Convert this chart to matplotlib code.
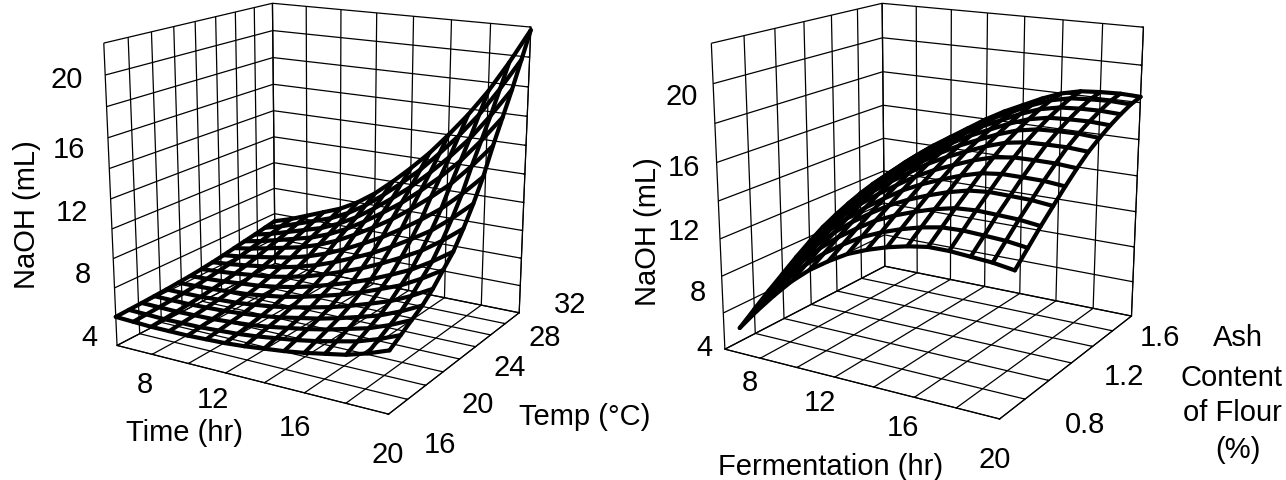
import matplotlib
matplotlib.use("Agg")
import matplotlib.pyplot as plt

plt.rcParams["font.family"] = ["Liberation Sans", "DejaVu Sans"]
plt.rcParams["grid.color"] = "black"
plt.rcParams["grid.linewidth"] = 0.9

W, H = 1286, 480

# left chart: time 6-20 h across, temp 16-32 C along
time_hr = [6, 7, 8, 9, 10, 11, 12, 13, 14, 15, 16, 17, 18, 19, 20]
temp_c = [16, 17.14, 18.29, 19.43, 20.57, 21.71, 22.86, 24, 25.14, 26.29, 27.43, 28.57, 29.71, 30.86, 32]
naoh_left = [
    [4.0, 3.95, 3.9, 3.9, 3.9, 3.95, 4.0, 4.1, 4.25, 4.4, 4.6, 4.85, 5.1, 5.5, 6.0],
    [4.04, 4.01, 3.97, 3.99, 4.0, 4.07, 4.15, 4.28, 4.46, 4.64, 4.88, 5.17, 5.47, 5.92, 6.47],
    [4.08, 4.06, 4.04, 4.07, 4.1, 4.19, 4.29, 4.45, 4.67, 4.89, 5.16, 5.5, 5.84, 6.34, 6.95],
    [4.13, 4.12, 4.12, 4.16, 4.21, 4.31, 4.44, 4.63, 4.88, 5.13, 5.45, 5.82, 6.21, 6.76, 7.42],
    [4.18, 4.19, 4.21, 4.28, 4.34, 4.48, 4.64, 4.87, 5.15, 5.45, 5.82, 6.25, 6.7, 7.32, 8.05],
    [4.25, 4.28, 4.33, 4.42, 4.51, 4.68, 4.88, 5.16, 5.5, 5.86, 6.29, 6.79, 7.31, 8.02, 8.84],
    [4.32, 4.38, 4.45, 4.57, 4.68, 4.88, 5.13, 5.46, 5.85, 6.26, 6.76, 7.32, 7.93, 8.72, 9.63],
    [4.42, 4.51, 4.62, 4.77, 4.92, 5.17, 5.47, 5.87, 6.34, 6.83, 7.42, 8.08, 8.79, 9.7, 10.74],
    [4.53, 4.65, 4.81, 5.0, 5.19, 5.49, 5.86, 6.34, 6.89, 7.48, 8.17, 8.94, 9.77, 10.82, 12.0],
    [4.66, 4.82, 5.03, 5.26, 5.5, 5.85, 6.3, 6.87, 7.52, 8.21, 9.02, 9.9, 10.88, 12.08, 13.43],
    [4.81, 5.02, 5.29, 5.58, 5.87, 6.3, 6.84, 7.52, 8.28, 9.1, 10.05, 11.09, 12.23, 13.62, 15.16],
    [4.95, 5.21, 5.53, 5.87, 6.21, 6.7, 7.33, 8.11, 8.98, 9.91, 10.99, 12.16, 13.46, 15.02, 16.74],
    [5.09, 5.39, 5.77, 6.16, 6.55, 7.11, 7.82, 8.7, 9.67, 10.72, 11.93, 13.24, 14.69, 16.42, 18.32],
    [5.25, 5.6, 6.04, 6.48, 6.93, 7.55, 8.36, 9.35, 10.44, 11.61, 12.97, 14.42, 16.05, 17.96, 20.06],
    [5.4, 5.8, 6.3, 6.8, 7.3, 8.0, 8.9, 10.0, 11.2, 12.5, 14.0, 15.6, 17.4, 19.5, 21.8],
]

# right chart: fermentation 6-20 h across, ash 0.7-1.8 % along
ferm_hr = [6, 7, 8, 9, 10, 11, 12, 13, 14, 15, 16, 17, 18, 19, 20]
ash_pct = [0.7, 0.8, 0.9, 1.0, 1.1, 1.2, 1.3, 1.4, 1.5, 1.6, 1.7, 1.8]
naoh_right = [
    [4.9, 6.3, 7.6, 8.8, 9.8, 10.6, 11.3, 11.8, 12.2, 12.5, 12.7, 12.7, 12.6, 12.5, 12.3],
    [5.67, 7.02, 8.28, 9.44, 10.41, 11.21, 11.92, 12.45, 12.88, 13.22, 13.45, 13.49, 13.42, 13.34, 13.16],
    [6.43, 7.73, 8.95, 10.07, 11.02, 11.82, 12.55, 13.1, 13.55, 13.93, 14.21, 14.29, 14.24, 14.18, 14.02],
    [7.14, 8.39, 9.58, 10.66, 11.59, 12.39, 13.12, 13.7, 14.18, 14.59, 14.9, 15.02, 14.99, 14.95, 14.81],
    [7.85, 9.05, 10.2, 11.25, 12.15, 12.95, 13.7, 14.3, 14.8, 15.25, 15.6, 15.75, 15.75, 15.73, 15.6],
    [8.5, 9.66, 10.77, 11.79, 12.67, 13.47, 14.23, 14.85, 15.37, 15.86, 16.24, 16.42, 16.44, 16.43, 16.33],
    [9.09, 10.21, 11.29, 12.28, 13.14, 13.94, 14.71, 15.35, 15.89, 16.41, 16.82, 17.03, 17.07, 17.08, 16.99],
    [9.56, 10.65, 11.71, 12.67, 13.51, 14.31, 15.09, 15.75, 16.31, 16.85, 17.28, 17.52, 17.58, 17.6, 17.51],
    [9.97, 11.03, 12.07, 13.01, 13.84, 14.64, 15.43, 16.1, 16.67, 17.23, 17.69, 17.95, 18.02, 18.05, 17.98],
    [10.33, 11.36, 12.38, 13.31, 14.12, 14.92, 15.72, 16.4, 16.98, 17.56, 18.04, 18.31, 18.4, 18.43, 18.37],
    [10.62, 11.64, 12.64, 13.55, 14.36, 15.16, 15.96, 16.65, 17.24, 17.84, 18.33, 18.62, 18.71, 18.76, 18.7],
    [10.8, 11.8, 12.8, 13.7, 14.5, 15.3, 16.1, 16.8, 17.4, 18.0, 18.5, 18.8, 18.9, 18.95, 18.9],
]

left_xticks = [6, 8, 10, 12, 14, 16, 18, 20]
left_yticks = [16, 18, 20, 22, 24, 26, 28, 30, 32]
left_zticks = [2, 4, 6, 8, 10, 12, 14, 16, 18, 20, 22]
right_xticks = [6, 8, 10, 12, 14, 16, 18, 20]
right_yticks = [0.6, 0.8, 1.0, 1.2, 1.4, 1.6, 1.8]
right_zticks = [4, 6.42, 8.84, 11.26, 13.68, 16.1, 18.52, 20.94, 23.36]

# tick labels, text and pixel centre
left_labels = [("20", 67, 80), ("16", 69, 150), ("12", 72, 213), ("8", 83, 275), ("4", 89, 338),
               ("8", 145, 385), ("12", 213, 400), ("16", 295, 428), ("20", 388, 455),
               ("16", 440, 445), ("20", 478, 405), ("24", 510, 368), ("28", 545, 338), ("32", 570, 305)]
right_labels = [("20", 682, 97), ("16", 684, 168), ("12", 684, 232), ("8", 698, 293), ("4", 704, 348),
                ("8", 750, 383), ("12", 820, 403), ("16", 903, 428), ("20", 995, 460),
                ("0.8", 1085, 425), ("1.2", 1124, 377), ("1.6", 1160, 338)]
titles = [("NaOH (mL)", 27, 215, 90), ("Time (hr)", 185, 433, 0), ("Temp (°C)", 585, 417, 0),
          ("NaOH (mL)", 648, 232, 90), ("Fermentation (hr)", 831, 467, 0),
          ("Ash", 1238, 338, 0), ("Content", 1232, 378, 0), ("of Flour", 1232, 413, 0), ("(%)", 1238, 450, 0)]


def put(fig, text, px, py, rot=0):
    fig.text(px / W, 1 - py / H, text, fontsize=21, rotation=rot, ha="center", va="center", color="black")


def draw(fig, rect, zoom, xs, ys, zs, xticks, yticks, zticks):
    ax = fig.add_axes(rect, projection="3d")
    ax.view_init(elev=16, azim=-59)
    ax.set_proj_type("persp", focal_length=0.45)
    ax.set_box_aspect((1.03, 0.97, 1.02), zoom=zoom)
    ax.patch.set_alpha(0)
    for axis in (ax.xaxis, ax.yaxis, ax.zaxis):
        axis.set_pane_color((1, 1, 1, 0))
        axis.pane.set_edgecolor("black")
        axis.line.set_color("black")
        axis.set_tick_params(labelleft=False, labelbottom=False, colors="black")
        axis._axinfo["tick"]["inward_factor"] = 0
        axis._axinfo["tick"]["outward_factor"] = 0.06
    ax.set_xticks(xticks)
    ax.set_yticks(yticks)
    ax.set_zticks(zticks)
    ax.set_xticklabels([])
    ax.set_yticklabels([])
    ax.set_zticklabels([])
    ax.set_xlim(xticks[0], xticks[-1], view_margin=0)
    ax.set_ylim(yticks[0], yticks[-1], view_margin=0)
    ax.set_zlim(zticks[0], zticks[-1], view_margin=0)
    # mesh drawn line by line, one row then one column
    for j, row in enumerate(zs):
        ax.plot(xs, [ys[j]] * len(xs), row, color="black", lw=3.0, solid_capstyle="round")
    for i, x in enumerate(xs):
        ax.plot([x] * len(ys), ys, [row[i] for row in zs], color="black", lw=3.0, solid_capstyle="round")
    return ax


fig = plt.figure(figsize=(W / 100, H / 100), dpi=100)
draw(fig, [0.016, -0.004, 0.46, 1.2], 0.88, time_hr, temp_c, naoh_left, left_xticks, left_yticks, left_zticks)
draw(fig, [0.4905, -0.008, 0.46, 1.2], 0.89, ferm_hr, ash_pct, naoh_right, right_xticks, right_yticks, right_zticks)

for text, px, py in left_labels + right_labels:
    put(fig, text, px, py)
for text, px, py, rot in titles:
    put(fig, text, px, py, rot)

fig.savefig("out.png", dpi=100)
